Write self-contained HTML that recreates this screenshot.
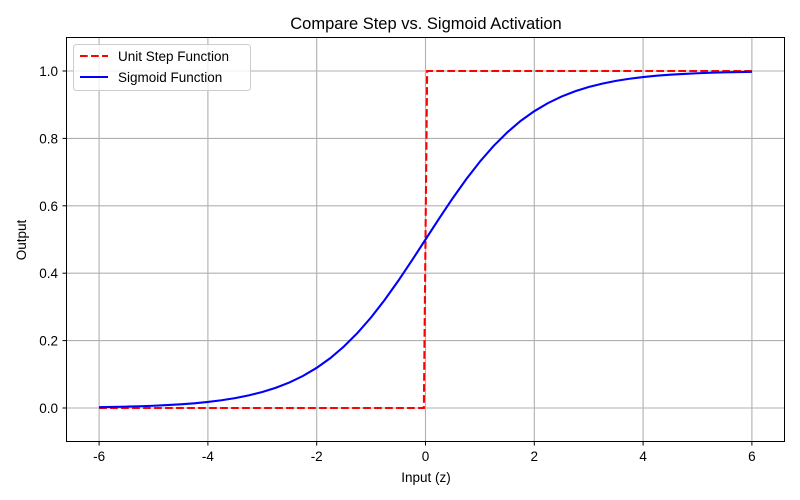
<!DOCTYPE html>
<html><head><meta charset="utf-8"><style>
body{margin:0;background:#fff;}
svg{display:block;font-family:"Liberation Sans","DejaVu Sans",sans-serif;}
</style></head><body>
<svg id="chart" width="800" height="500" viewBox="0 0 800 500">
<rect width="800" height="500" fill="#fff"/>
<text x="426" y="29" text-anchor="middle" font-size="16.5" fill="#000">Compare Step vs. Sigmoid Activation</text>
<g id="grid"></g>
<g id="series"></g>
<rect x="66.5" y="37.5" width="718" height="404" fill="none" stroke="#000" stroke-width="1"/>
<g id="ticks"></g>
<text x="426" y="482" text-anchor="middle" font-size="13.5">Input (z)</text>
<text transform="translate(26,240) rotate(-90)" text-anchor="middle" font-size="13.5">Output</text>
<g>
<rect x="73.5" y="44.5" width="177" height="46" rx="3" fill="#fff" fill-opacity="0.8" stroke="#ccc"/>
<g>
<line x1="80" y1="56" x2="108" y2="56" stroke="red" stroke-width="2.1" stroke-dasharray="7.7,3.3"/>
<text x="118" y="61" font-size="13.5">Unit Step Function</text></g>
<g>
<line x1="80" y1="77" x2="108" y2="77" stroke="blue" stroke-width="2.1"/>
<text x="118" y="82" font-size="13.5">Sigmoid Function</text></g>
</g>
</svg>
<script>
const xTicks=[-6,-4,-2,0,2,4,6];
const yTicks=[0.0,0.2,0.4,0.6,0.8,1.0];
const yTickLabels=["0.0","0.2","0.4","0.6","0.8","1.0"];
const sigX=[-6,-5.75,-5.5,-5.25,-5,-4.75,-4.5,-4.25,-4,-3.75,-3.5,-3.25,-3,-2.75,-2.5,-2.25,-2,-1.75,-1.5,-1.25,-1,-0.75,-0.5,-0.25,0,0.25,0.5,0.75,1,1.25,1.5,1.75,2,2.25,2.5,2.75,3,3.25,3.5,3.75,4,4.25,4.5,4.75,5,5.25,5.5,5.75,6];
const sigY=[0.0025,0.0032,0.0041,0.0052,0.0067,0.0086,0.0110,0.0140,0.0180,0.0230,0.0293,0.0374,0.0474,0.0601,0.0759,0.0953,0.1192,0.1480,0.1824,0.2227,0.2689,0.3208,0.3775,0.4378,0.5,0.5622,0.6225,0.6792,0.7311,0.7773,0.8176,0.8520,0.8808,0.9047,0.9241,0.9399,0.9526,0.9626,0.9707,0.9770,0.9820,0.9860,0.9890,0.9914,0.9933,0.9948,0.9959,0.9968,0.9975];
const stepX=[-6,-0.03,0.03,6];
const stepY=[0,0,1,1];
const X=v=>425.5+v*54.4;
const Y=v=>408-v*337;
const NS="http://www.w3.org/2000/svg";
function mk(tag,attrs,parent){const e=document.createElementNS(NS,tag);for(const k in attrs)e.setAttribute(k,attrs[k]);parent.appendChild(e);return e;}
const grid=document.getElementById('grid'),ticks=document.getElementById('ticks'),series=document.getElementById('series');
xTicks.forEach(t=>{
 const g=mk('line',{x1:X(t),x2:X(t),y1:37.5,y2:441.5,stroke:'#b0b0b0','stroke-width':1.1},grid);
 
 
 mk('line',{x1:X(t),x2:X(t),y1:441.5,y2:445.5,stroke:'#000','stroke-width':1},ticks);
 const l=mk('text',{x:X(t),y:461,'text-anchor':'middle','font-size':13.5},ticks);
 l.textContent=String(t);
 
 
});
yTicks.forEach((t,i)=>{
 const g=mk('line',{x1:66.5,x2:784.5,y1:Y(t),y2:Y(t),stroke:'#b0b0b0','stroke-width':1.1},grid);
 
 
 mk('line',{x1:62.5,x2:66.5,y1:Y(t),y2:Y(t),stroke:'#000','stroke-width':1},ticks);
 const l=mk('text',{x:58,y:Y(t)+5,'text-anchor':'end','font-size':13.5},ticks);
 l.textContent=yTickLabels[i];
 
 
});
const sp=mk('polyline',{points:stepX.map((x,i)=>X(x)+','+Y(stepY[i])).join(' '),fill:'none',stroke:'red','stroke-width':2.1,'stroke-dasharray':'7.7,3.3'},series);


const sg=mk('polyline',{points:sigX.map((x,i)=>X(x)+','+Y(sigY[i])).join(' '),fill:'none',stroke:'blue','stroke-width':2.1},series);


</script>
</body></html>
